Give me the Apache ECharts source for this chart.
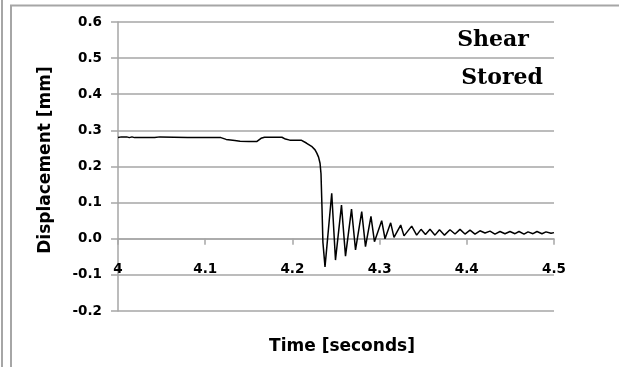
<!DOCTYPE html>
<html>
<head>
<meta charset="utf-8">
<script src="https://cdn.jsdelivr.net/npm/echarts@6/dist/echarts.min.js"></script>
<style>
html,body{margin:0;padding:0;background:#fff;}
#chart{width:619px;height:367px;}
</style>
</head>
<body>
<div id="chart"></div>
<script>
// Time [seconds]
const time = [
  4.000, 4.004, 4.006, 4.010, 4.013, 4.016, 4.019, 4.038, 4.040, 4.042,
  4.048, 4.050, 4.080, 4.118, 4.124, 4.134, 4.140, 4.150, 4.159, 4.164,
  4.168, 4.188, 4.192, 4.197, 4.210, 4.216, 4.222, 4.226, 4.228, 4.230,
  4.2317, 4.2328, 4.2340, 4.2350, 4.2374, 4.2451, 4.2494, 4.2563, 4.2609, 4.2678,
  4.2724, 4.2795, 4.2838, 4.2901, 4.2941, 4.3024, 4.3062, 4.3127, 4.3165, 4.3242,
  4.3280, 4.3368, 4.3425, 4.3475, 4.3526, 4.3578, 4.3635, 4.3687, 4.3744, 4.3807,
  4.3865, 4.3922, 4.3979, 4.4037, 4.4094, 4.4151, 4.4209, 4.4266, 4.4323, 4.4381,
  4.4438, 4.4495, 4.4553, 4.4599, 4.4656, 4.4702, 4.4759, 4.4805, 4.4862, 4.4908,
  4.4966, 4.5000
];
// Displacement [mm]
const displacement = [
  0.280, 0.282, 0.280, 0.282, 0.280, 0.282, 0.280, 0.280, 0.282, 0.280,
  0.282, 0.280, 0.280, 0.280, 0.275, 0.272, 0.270, 0.269, 0.269, 0.278,
  0.281, 0.281, 0.276, 0.273, 0.273, 0.265, 0.256, 0.246, 0.237, 0.226,
  0.209, 0.180, 0.080, -0.010, -0.078, 0.126, -0.059, 0.093, -0.048, 0.082,
  -0.031, 0.075, -0.022, 0.062, -0.008, 0.050, 0.000, 0.044, 0.004, 0.038,
  0.008, 0.035, 0.010, 0.026, 0.012, 0.026, 0.010, 0.025, 0.010, 0.025,
  0.013, 0.026, 0.013, 0.024, 0.013, 0.022, 0.016, 0.021, 0.013, 0.020,
  0.014, 0.020, 0.014, 0.020, 0.013, 0.019, 0.014, 0.020, 0.014, 0.019,
  0.015, 0.017
];
const xTicks = { min: 4, max: 4.5, step: 0.1 };
const yTicks = { min: -0.2, max: 0.6, step: 0.1 };
const xTitle = 'Time [seconds]';
const yTitle = 'Displacement [mm]';
const notes = ['Shear', 'Stored'];

const gray = '#a6a6a6';
const lblFont = { color: '#000', fontFamily: 'DejaVu Sans', fontWeight: 'bold', fontSize: 13.5 };

const gridTop = 22, gridBottom = 56, H = 367;
const plotH = H - gridTop - gridBottom;
// place the x axis where y = 0 (crossing), measured from the bottom of the plot
const xAxisOffset = -plotH * (0 - yTicks.min) / (yTicks.max - yTicks.min);

const chart = echarts.init(document.getElementById('chart'), null, { renderer: 'canvas' });
chart.setOption({
  animation: false,
  backgroundColor: '#fff',
  grid: { left: 118, right: 65, top: gridTop, bottom: gridBottom, containLabel: false },
  xAxis: {
    type: 'value',
    position: 'bottom',
    offset: xAxisOffset,
    min: xTicks.min, max: xTicks.max, interval: xTicks.step,
    axisLine: { show: true, onZero: false, lineStyle: { color: gray, width: 1.5 } },
    axisTick: { show: true, inside: false, length: 6, lineStyle: { color: gray, width: 1.5 } },
    splitLine: { show: false },
    axisLabel: Object.assign({ margin: 24, showMinLabel: true, showMaxLabel: true,
      formatter: v => String(+(+v).toFixed(1)) }, lblFont)
  },
  yAxis: {
    type: 'value',
    min: yTicks.min, max: yTicks.max, interval: yTicks.step,
    axisLine: { show: true, onZero: false, lineStyle: { color: gray, width: 1.5 } },
    axisTick: { show: true, inside: false, length: 7, lineStyle: { color: gray, width: 1.5 } },
    splitLine: { show: true, lineStyle: { color: gray, width: 1.5 } },
    axisLabel: Object.assign({ margin: 16, showMinLabel: true, showMaxLabel: true,
      formatter: v => (+v).toFixed(1) }, lblFont)
  },
  series: [{
    type: 'line',
    data: time.map((t, i) => [t, displacement[i]]),
    showSymbol: false,
    lineStyle: { color: '#000', width: 1.5 },
    itemStyle: { color: '#000' },
    z: 5
  }],
  graphic: [
    { type: 'line', shape: { x1: 2, y1: 0, x2: 2, y2: 367 }, style: { stroke: gray, lineWidth: 2 } },
    { type: 'line', shape: { x1: 11, y1: 5, x2: 11, y2: 367 }, style: { stroke: gray, lineWidth: 2 } },
    { type: 'line', shape: { x1: 10, y1: 5.5, x2: 619, y2: 5.5 }, style: { stroke: gray, lineWidth: 2 } },
    { type: 'text', x: 46, y: 160, rotation: Math.PI / 2,
      style: { text: yTitle, fill: '#000', font: 'bold 17px "DejaVu Sans"', textAlign: 'center', textVerticalAlign: 'middle' } },
    { type: 'text', x: 342, y: 347,
      style: { text: xTitle, fill: '#000', font: 'bold 17px "DejaVu Sans"', textAlign: 'center', textVerticalAlign: 'middle' } },
    { type: 'text', x: 493, y: 40,
      style: { text: notes[0], fill: '#000', font: 'bold 22px "DejaVu Serif"', textAlign: 'center', textVerticalAlign: 'middle' } },
    { type: 'text', x: 502, y: 78,
      style: { text: notes[1], fill: '#000', font: 'bold 22px "DejaVu Serif"', textAlign: 'center', textVerticalAlign: 'middle' } }
  ]
});
</script>
</body>
</html>
